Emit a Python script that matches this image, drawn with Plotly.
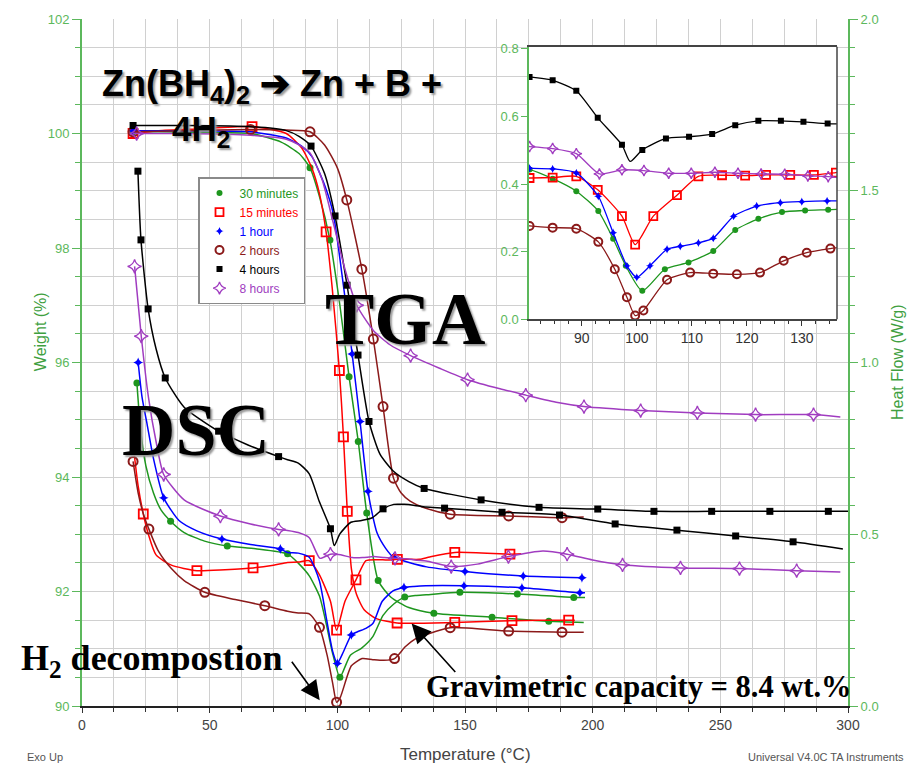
import plotly.graph_objects as go

# ======================= DATA =======================
series_names = ["30 minutes", "15 minutes", "1 hour", "2 hours", "4 hours", "8 hours"]

# ---- TGA: temperature (°C), weight (%), marker flag (1 = symbol drawn) ----
tga_30m_T = [20, 30, 45, 66, 78, 85, 89.3, 93, 97.1, 101, 104.6, 108.2, 111.5, 116, 121, 128, 137.8, 160.6, 182.8, 196.5]
tga_30m_W = [100.03, 100.03, 100.02, 100.0, 99.85, 99.65, 99.4, 98.9, 98.14, 97.0, 95.75, 94.62, 93.37, 92.19, 91.9, 91.72, 91.62, 91.55, 91.48, 91.46]
tga_30m_mk = [1, 0, 0, 0, 0, 0, 1, 0, 1, 0, 1, 1, 1, 1, 0, 0, 1, 1, 1, 0]

tga_15m_T = [20, 30, 45, 66.6, 80, 86, 90, 93, 95.6, 98, 100.8, 102.4, 103.9, 105.5, 107.5, 110.5, 115, 123.4, 146, 168.4, 190.6, 193]
tga_15m_W = [100.0, 100.05, 100.08, 100.12, 100.0, 99.75, 99.4, 98.95, 98.28, 97.3, 95.86, 94.7, 93.4, 92.4, 91.95, 91.68, 91.53, 91.45, 91.46, 91.49, 91.5, 91.5]
tga_15m_mk = [1, 0, 0, 1, 0, 0, 0, 0, 1, 0, 1, 1, 1, 0, 0, 0, 0, 1, 1, 1, 1, 0]

tga_1h_T = [20, 40, 66, 80, 86, 90, 95, 98.4, 102.4, 105.8, 108.9, 112, 115.5, 119, 122, 135, 150, 172.8, 195.8]
tga_1h_W = [100.05, 100.05, 100.03, 99.92, 99.78, 99.6, 99.1, 98.6, 97.34, 96.15, 94.97, 93.75, 93.03, 92.75, 92.6, 92.43, 92.35, 92.27, 92.24]
tga_1h_mk = [1, 0, 0, 0, 0, 0, 0, 0, 0, 1, 1, 1, 0, 0, 1, 0, 1, 1, 1]

tga_2h_T = [20, 40, 66, 80, 89.3, 95, 100, 103.7, 109.6, 114.1, 117.9, 122, 125, 128.5, 135, 144.2, 167.1, 188, 196.5]
tga_2h_W = [100.03, 100.05, 100.07, 100.06, 100.03, 99.8, 99.4, 98.84, 97.63, 96.41, 95.23, 93.98, 93.72, 93.58, 93.45, 93.35, 93.32, 93.29, 93.3]
tga_2h_mk = [1, 0, 1, 0, 1, 0, 0, 1, 1, 1, 1, 1, 0, 0, 0, 1, 1, 1, 0]

tga_4h_T = [20, 40, 66, 80, 85, 89.7, 95, 99.1, 103.8, 108.1, 112.4, 116.7, 122, 128, 134, 156.3, 179, 202, 224, 246.6, 269.4, 292.3, 300]
tga_4h_W = [100.14, 100.14, 100.12, 100.05, 99.95, 99.78, 99.3, 98.56, 97.35, 96.13, 94.97, 94.4, 94.1, 93.92, 93.8, 93.6, 93.47, 93.44, 93.4, 93.4, 93.4, 93.4, 93.4]
tga_4h_mk = [1, 0, 0, 0, 0, 1, 0, 1, 1, 1, 1, 0, 0, 0, 1, 1, 1, 1, 1, 1, 1, 1, 0]

tga_8h_T = [20, 21.4, 40, 66, 80, 85, 89.3, 94, 98.4, 103, 107.6, 114.1, 120.6, 128.7, 140, 151, 163.7, 173.8, 186.3, 196.6, 218.8, 241, 263.8, 286.5, 297]
tga_8h_W = [100.0, 100.0, 100.0, 99.97, 99.9, 99.8, 99.66, 99.2, 98.44, 97.63, 97.0, 96.56, 96.31, 96.12, 95.9, 95.7, 95.54, 95.43, 95.3, 95.23, 95.16, 95.12, 95.09, 95.09, 95.05]
tga_8h_mk = [0, 1, 0, 0, 0, 0, 0, 0, 0, 0, 1, 0, 0, 1, 0, 1, 0, 1, 0, 1, 1, 1, 1, 1, 0]

# ---- DSC: temperature (°C), heat flow (W/g), marker code (1 = main, 2 = inset, 3 = both) ----
dsc_30m_T = [21.5, 23, 25, 28, 31, 34.7, 40, 48, 56.9, 68, 80.5, 84.7, 89, 93, 95.7, 98, 101, 105.1, 109.4, 113.9, 117.9, 122.1, 126.4, 130.6, 134.8, 148, 170.5, 192.6, 197]
dsc_30m_H = [0.94, 0.80, 0.70, 0.62, 0.57, 0.538, 0.505, 0.48, 0.466, 0.458, 0.443, 0.416, 0.379, 0.32, 0.238, 0.158, 0.084, 0.148, 0.168, 0.202, 0.264, 0.297, 0.317, 0.322, 0.324, 0.331, 0.326, 0.316, 0.316]
dsc_30m_mk = [1, 0, 0, 0, 0, 1, 0, 0, 1, 0, 3, 2, 2, 2, 2, 2, 3, 2, 2, 2, 2, 2, 3, 2, 2, 1, 1, 1, 0]

dsc_15m_T = [20.5, 22, 24, 26, 29, 35, 45, 56, 67, 75, 80.5, 84.7, 89, 92.9, 97.3, 99.7, 103, 107.3, 111.2, 115.5, 119.7, 123.5, 127.9, 132.2, 136.2, 146, 167.6, 172]
dsc_15m_H = [0.73, 0.64, 0.559, 0.50, 0.44, 0.41, 0.394, 0.397, 0.402, 0.41, 0.418, 0.419, 0.423, 0.383, 0.305, 0.221, 0.305, 0.367, 0.423, 0.426, 0.425, 0.427, 0.427, 0.427, 0.434, 0.447, 0.442, 0.443]
dsc_15m_mk = [0, 0, 1, 0, 0, 0, 1, 0, 1, 0, 2, 2, 3, 2, 2, 3, 2, 3, 2, 2, 2, 3, 2, 2, 2, 1, 1, 0]

dsc_1h_T = [22, 23.5, 25.5, 28, 32, 38, 45, 54.8, 66, 77.7, 80.5, 84.7, 89, 93, 95.7, 98.2, 100, 102.4, 105.5, 107.9, 111.2, 113.9, 117.6, 121.8, 126.1, 130, 134.6, 149.6, 172.3, 195, 197]
dsc_1h_H = [1.0, 0.9, 0.82, 0.72, 0.606, 0.54, 0.51, 0.486, 0.47, 0.457, 0.447, 0.445, 0.433, 0.364, 0.256, 0.158, 0.124, 0.158, 0.207, 0.216, 0.226, 0.24, 0.305, 0.335, 0.345, 0.348, 0.35, 0.35, 0.344, 0.33, 0.33]
dsc_1h_mk = [1, 0, 0, 0, 1, 0, 0, 1, 0, 1, 2, 2, 2, 2, 2, 2, 3, 2, 3, 2, 2, 2, 2, 2, 3, 2, 2, 1, 1, 1, 0]

dsc_2h_T = [20, 22, 24, 26.2, 30, 35, 40, 48.1, 60, 71.6, 80.5, 84.7, 89, 93, 96, 98.2, 99.7, 101.2, 105.5, 109.7, 113.9, 118.2, 122.4, 126.7, 130.9, 135.2, 144.2, 167.1, 188, 196.5]
dsc_2h_H = [0.712, 0.62, 0.56, 0.515, 0.45, 0.40, 0.365, 0.331, 0.31, 0.292, 0.276, 0.271, 0.268, 0.229, 0.148, 0.065, 0.011, 0.026, 0.117, 0.138, 0.135, 0.133, 0.138, 0.173, 0.197, 0.209, 0.228, 0.218, 0.215, 0.215]
dsc_2h_mk = [1, 0, 0, 1, 0, 0, 0, 1, 0, 1, 2, 2, 2, 3, 2, 2, 3, 2, 2, 2, 2, 2, 3, 2, 2, 2, 1, 1, 1, 0]

dsc_4h_T = [21.9, 23.1, 25.9, 29, 32.6, 40, 53.5, 65, 77, 80.5, 84.7, 89, 92.9, 97.3, 98.8, 101, 105.3, 109.5, 113.7, 117.9, 122.1, 126.2, 130.3, 134.7, 142, 164.5, 187, 208.8, 233, 256, 278.5, 298]
dsc_4h_H = [1.557, 1.357, 1.156, 1.04, 0.955, 0.87, 0.80, 0.76, 0.726, 0.717, 0.707, 0.676, 0.596, 0.516, 0.467, 0.501, 0.535, 0.54, 0.548, 0.574, 0.587, 0.587, 0.584, 0.579, 0.576, 0.564, 0.556, 0.53, 0.512, 0.495, 0.478, 0.457]
dsc_4h_mk = [1, 1, 1, 0, 1, 0, 1, 0, 1, 2, 2, 2, 2, 3, 0, 2, 2, 2, 2, 3, 2, 2, 2, 2, 1, 1, 1, 1, 1, 1, 1, 0]

dsc_8h_T = [20.6, 23.2, 26, 29, 32, 40, 54.2, 66, 77, 80.5, 84.7, 89, 93.2, 97.3, 101.3, 105.8, 109.9, 114.2, 118.4, 122.6, 126.9, 131.1, 134.8, 144.6, 154.8, 167, 180.5, 190, 200, 211.7, 234.4, 257.5, 279.9, 297]
dsc_8h_H = [1.28, 1.077, 0.90, 0.77, 0.674, 0.60, 0.553, 0.53, 0.514, 0.511, 0.505, 0.49, 0.43, 0.442, 0.44, 0.432, 0.432, 0.435, 0.432, 0.43, 0.429, 0.424, 0.422, 0.406, 0.413, 0.435, 0.451, 0.442, 0.425, 0.411, 0.402, 0.40, 0.394, 0.39]
dsc_8h_mk = [1, 1, 0, 0, 1, 0, 1, 0, 1, 2, 2, 2, 2, 3, 2, 2, 2, 2, 2, 3, 2, 2, 2, 1, 0, 1, 0, 1, 0, 1, 1, 1, 1, 0]

# axis ranges / ticks
temp_range = [0, 300]
weight_range = [90, 102]
heat_range = [0, 2]
inset_temp_range = [80.4, 136.4]
inset_heat_range = [0, 0.806]

# ======================= STYLE =======================
colors = ["#1e961e", "#ff0000", "#0000ff", "#8b1a1a", "#000000", "#a03cc0"]
symbols = ["circle", "square-open", "star-diamond", "circle-open", "square", "star-diamond-open"]
msize = [7, 9, 7, 9, 7, 10]
mline = [0, 1.8, 0, 2, 0, 1.3]
isize = [6, 8, 6, 8, 6, 8]

tga = [(tga_30m_T, tga_30m_W, tga_30m_mk), (tga_15m_T, tga_15m_W, tga_15m_mk),
       (tga_1h_T, tga_1h_W, tga_1h_mk), (tga_2h_T, tga_2h_W, tga_2h_mk),
       (tga_4h_T, tga_4h_W, tga_4h_mk), (tga_8h_T, tga_8h_W, tga_8h_mk)]
dsc = [(dsc_30m_T, dsc_30m_H, dsc_30m_mk), (dsc_15m_T, dsc_15m_H, dsc_15m_mk),
       (dsc_1h_T, dsc_1h_H, dsc_1h_mk), (dsc_2h_T, dsc_2h_H, dsc_2h_mk),
       (dsc_4h_T, dsc_4h_H, dsc_4h_mk), (dsc_8h_T, dsc_8h_H, dsc_8h_mk)]

GREEN = "#5cb85c"
GREEN_T = "#3f9f3f"
NARROW = "Liberation Sans Narrow, Arial Narrow, Liberation Sans, Arial, sans-serif"
SERIF = "Liberation Serif, Times New Roman, serif"
SANS = "Liberation Sans, Arial, sans-serif"

W_PX, H_PX = 912, 771
ML, MR, MT, MB = 82, 64, 15, 65
PW, PH = W_PX - ML - MR, H_PX - MT - MB


def pxx(p):
    return (p - ML) / PW


def pxy(p):
    return (H_PX - MB - p) / PH


def pick(xs, ys, mk, codes):
    px = [x for x, m in zip(xs, mk) if m in codes]
    py = [y for y, m in zip(ys, mk) if m in codes]
    return px, py


fig = go.Figure()

LS = dict(shape="spline", smoothing=0.6, width=1.5)

# ---- main plot: DSC (right axis) ----
for i in range(6):
    T, V, mk = dsc[i]
    fig.add_trace(go.Scatter(x=T, y=V, mode="lines", yaxis="y2",
                             line=dict(color=colors[i], **LS),
                             showlegend=False, hoverinfo="skip"))
    mx, my = pick(T, V, mk, (1, 3))
    fig.add_trace(go.Scatter(x=mx, y=my, mode="markers", yaxis="y2",
                             marker=dict(symbol=symbols[i], size=msize[i], color=colors[i],
                                         line=dict(width=mline[i], color=colors[i])),
                             showlegend=False, hoverinfo="skip"))

# ---- main plot: TGA (left axis) ----
for i in range(6):
    T, V, mk = tga[i]
    fig.add_trace(go.Scatter(x=T, y=V, mode="lines",
                             line=dict(color=colors[i], **LS),
                             showlegend=False, hoverinfo="skip"))
    mx, my = pick(T, V, mk, (1,))
    fig.add_trace(go.Scatter(x=mx, y=my, mode="markers",
                             marker=dict(symbol=symbols[i], size=msize[i], color=colors[i],
                                         line=dict(width=mline[i], color=colors[i])),
                             showlegend=False, hoverinfo="skip"))

# ---- inset: white background then DSC zoom ----
ix0, ix1 = inset_temp_range
iy0, iy1 = inset_heat_range
fig.add_trace(go.Scatter(x=[ix0, ix1, ix1, ix0, ix0], y=[iy0, iy0, iy1, iy1, iy0],
                         xaxis="x3", yaxis="y3", mode="lines", fill="toself",
                         fillcolor="white", line=dict(width=0, color="white"),
                         showlegend=False, hoverinfo="skip"))
for i in range(6):
    T, V, mk = dsc[i]
    fig.add_trace(go.Scatter(x=T, y=V, mode="lines", xaxis="x3", yaxis="y3",
                             line=dict(color=colors[i], shape="spline", smoothing=0.6, width=1.3),
                             showlegend=False, hoverinfo="skip"))
    mx, my = pick(T, V, mk, (2, 3))
    fig.add_trace(go.Scatter(x=mx, y=my, mode="markers", xaxis="x3", yaxis="y3",
                             marker=dict(symbol=symbols[i], size=isize[i], color=colors[i],
                                         line=dict(width=mline[i], color=colors[i])),
                             showlegend=False, hoverinfo="skip"))

# ---- legend entries ----
for i in range(6):
    fig.add_trace(go.Scatter(x=[None], y=[None], mode="markers",
                             name=f'<span style="color:{colors[i]}">{series_names[i]}</span>',
                             marker=dict(symbol=symbols[i], size=msize[i] - 1, color=colors[i],
                                         line=dict(width=mline[i], color=colors[i])),
                             showlegend=True))

grid = "#d0d0d0"
fig.update_layout(
    width=W_PX, height=H_PX,
    margin=dict(l=ML, r=MR, t=MT, b=MB),
    paper_bgcolor="white", plot_bgcolor="white",
    xaxis=dict(range=temp_range, tickvals=[0, 50, 100, 150, 200, 250, 300],
               showgrid=True, gridcolor=grid, gridwidth=1.3,
               ticks="outside", ticklen=5, tickcolor="#333", tickwidth=1,
               showline=True, linecolor="#222", linewidth=2, zeroline=False,
               tickfont=dict(family=NARROW, size=14, color="#444"),
               minor=dict(dtick=12.5, tick0=0, ticks="outside", ticklen=4, tickcolor="#333",
                          showgrid=True, gridcolor=grid, gridwidth=1.3)),
    yaxis=dict(range=weight_range, dtick=2, tick0=90,
               showgrid=True, gridcolor=grid, gridwidth=1.3,
               ticks="outside", ticklen=8, tickcolor=GREEN, tickwidth=1.2,
               showline=True, linecolor=GREEN, linewidth=2, zeroline=False,
               tickfont=dict(family=NARROW, size=13, color=GREEN),
               minor=dict(dtick=0.5, tick0=90, ticks="outside", ticklen=5, tickcolor=GREEN,
                          showgrid=True, gridcolor=grid, gridwidth=1.3)),
    yaxis2=dict(range=heat_range, overlaying="y", side="right", dtick=0.5, tick0=0,
                tickformat=".1f", showgrid=False, zeroline=False,
                ticks="outside", ticklen=8, tickcolor=GREEN, tickwidth=1.2,
                showline=True, linecolor=GREEN, linewidth=2,
                tickfont=dict(family=NARROW, size=13, color=GREEN),
                minor=dict(dtick=1 / 12, tick0=0, ticks="outside", ticklen=5, tickcolor=GREEN)),
    xaxis3=dict(domain=[pxx(529), pxx(837)], anchor="y3", range=inset_temp_range,
                dtick=10, tick0=0, showgrid=False, zeroline=False,
                ticks="outside", ticklen=5, tickcolor="#333",
                showline=True, linecolor="#444", linewidth=1.5, mirror=True,
                tickfont=dict(family=NARROW, size=14, color="#333"),
                minor=dict(dtick=2.5, tick0=0, ticks="outside", ticklen=3, tickcolor="#333")),
    yaxis3=dict(domain=[pxy(317), pxy(43)], anchor="x3", range=inset_heat_range,
                dtick=0.2, tick0=0, tickformat=".1f", showgrid=False, zeroline=False,
                ticks="outside", ticklen=6, tickcolor=GREEN,
                showline=True, linecolor=GREEN, linewidth=1.5,
                tickfont=dict(family=NARROW, size=13, color=GREEN)),
    showlegend=True,
    legend=dict(x=pxx(198), y=pxy(174), xanchor="left", yanchor="top",
                bgcolor="white", bordercolor="#8a8a8a", borderwidth=1.5,
                font=dict(family=NARROW, size=12), itemwidth=30,
                tracegroupgap=0),
    shapes=[dict(type="line", xref="x3 domain", yref="y3 domain", x0=1, x1=1, y0=0, y1=1,
                 line=dict(color="#444", width=1.5))],
)

shadow = "2px 2px 2px #9a9a9a"
ann = [
    dict(text="Zn(BH<sub>4</sub>)<sub>2</sub> \u2794 Zn + B +", x=pxx(100), y=pxy(82),
         xanchor="left", yanchor="middle",
         font=dict(family=SANS, size=36, color="black", weight="bold", shadow=shadow)),
    dict(text="4H<sub>2</sub>", x=pxx(201), y=pxy(128), xanchor="center", yanchor="middle",
         font=dict(family=SANS, size=35, color="black", weight="bold", shadow=shadow)),
    dict(text="TGA", x=pxx(405), y=pxy(317), xanchor="center", yanchor="middle",
         font=dict(family=SERIF, size=74, color="black", weight="bold", shadow=shadow)),
    dict(text="DSC", x=pxx(196), y=pxy(428), xanchor="center", yanchor="middle",
         font=dict(family=SERIF, size=74, color="black", weight="bold", shadow=shadow)),
    dict(text="H<sub>2</sub> decompostion", x=pxx(19), y=pxy(660), xanchor="left", yanchor="middle",
         font=dict(family=SERIF, size=36, color="black", weight="bold")),
    dict(text="Gravimetric capacity = 8.4 wt.%", x=pxx(424), y=pxy(687), xanchor="left",
         yanchor="middle", font=dict(family=SERIF, size=30.5, color="black", weight="bold")),
    dict(text="Exo Up", x=pxx(25), y=pxy(757), xanchor="left", yanchor="middle",
         font=dict(family=NARROW, size=11, color="#555")),
    dict(text="Temperature (\u00b0C)", x=pxx(465), y=pxy(755), xanchor="center", yanchor="middle",
         font=dict(family=NARROW, size=17, color="#444")),
    dict(text="Universal V4.0C TA Instruments", x=pxx(746), y=pxy(757), xanchor="left",
         yanchor="middle", font=dict(family=NARROW, size=11, color="#555")),
    dict(text="Weight (%)", x=pxx(40), y=pxy(330), xanchor="center", yanchor="middle",
         textangle=-90, font=dict(family=NARROW, size=16, color=GREEN_T)),
    dict(text="Heat Flow (W/g)", x=pxx(897), y=pxy(360), xanchor="center", yanchor="middle",
         textangle=-90, font=dict(family=NARROW, size=16, color=GREEN_T)),
]
for a in ann:
    a.update(xref="paper", yref="paper", showarrow=False)

# arrows pointing to features (tips in data coordinates)
ann.append(dict(x=93.1, y=90.1, xref="x", yref="y", ax=-29, ay=-40, text="",
                showarrow=True, arrowhead=2, arrowsize=2.4, arrowwidth=1.6, arrowcolor="black"))
ann.append(dict(x=129.1, y=91.44, xref="x", yref="y", ax=45, ay=50, text="",
                showarrow=True, arrowhead=2, arrowsize=2.4, arrowwidth=1.6, arrowcolor="black"))
fig.update_layout(annotations=ann)

fig.write_html("out.html")
